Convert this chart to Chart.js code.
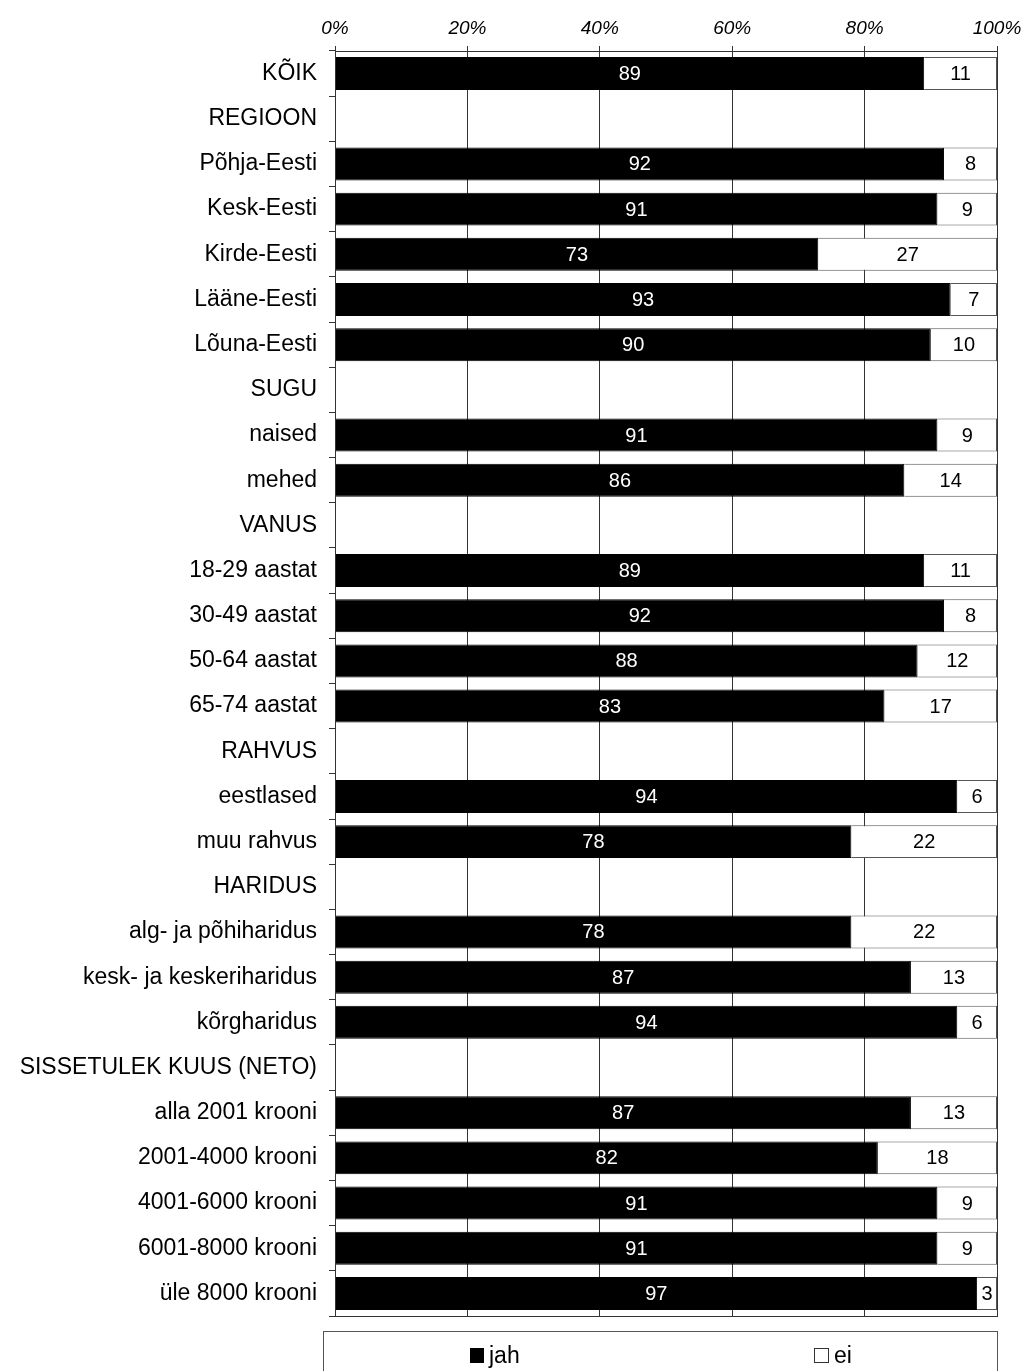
<!DOCTYPE html>
<html>
<head>
<meta charset="utf-8">
<script src="https://cdn.jsdelivr.net/npm/chart.js@4/dist/chart.umd.min.js"></script>
<style>
  body { margin: 0; background: #fff; }
  #wrap { width: 1023px; height: 1371px; position: relative; }
</style>
</head>
<body>
<div id="wrap"><canvas id="grafik"></canvas></div>
<script>
// Kategooriad (rühmade pealkirjad on tühjad read)
var kategooriad = ['KÕIK', 'REGIOON', 'Põhja-Eesti', 'Kesk-Eesti', 'Kirde-Eesti', 'Lääne-Eesti', 'Lõuna-Eesti',
  'SUGU', 'naised', 'mehed', 'VANUS', '18-29 aastat', '30-49 aastat', '50-64 aastat', '65-74 aastat',
  'RAHVUS', 'eestlased', 'muu rahvus', 'HARIDUS', 'alg- ja põhiharidus', 'kesk- ja keskeriharidus', 'kõrgharidus',
  'SISSETULEK KUUS (NETO)', 'alla 2001 krooni', '2001-4000 krooni', '4001-6000 krooni', '6001-8000 krooni', 'üle 8000 krooni'];

var jah = [89, null, 92, 91, 73, 93, 90, null, 91, 86, null, 89, 92, 88, 83, null, 94, 78, null, 78, 87, 94, null, 87, 82, 91, 91, 97];
var ei  = [11, null, 8, 9, 27, 7, 10, null, 9, 14, null, 11, 8, 12, 17, null, 6, 22, null, 22, 13, 6, null, 13, 18, 9, 9, 3];

var xTicks = [0, 20, 40, 60, 80, 100];

var FONT = '"Liberation Sans", Arial, sans-serif';

// Väärtused tulpade sisse
var silTulbal = {
  id: 'silTulbal',
  afterDatasetsDraw: function(chart) {
    var ctx = chart.ctx;
    ctx.save();
    ctx.font = '20px ' + FONT;
    ctx.textAlign = 'center';
    ctx.textBaseline = 'middle';
    chart.data.datasets.forEach(function(ds, i) {
      var meta = chart.getDatasetMeta(i);
      meta.data.forEach(function(bar, j) {
        var v = ds.data[j];
        if (v === null || v === undefined) return;
        ctx.fillStyle = i === 0 ? '#fff' : '#000';
        ctx.fillText(v, (bar.x + bar.base) / 2, bar.y + 1);
      });
    });
    ctx.restore();
  }
};

// Raam ümber joonise ja legend all
var raamJaLegend = {
  id: 'raamJaLegend',
  afterDraw: function(chart) {
    var ctx = chart.ctx;
    var a = chart.chartArea;
    ctx.save();
    ctx.strokeStyle = '#333';
    ctx.lineWidth = 1;
    ctx.strokeRect(Math.round(a.left) + 0.5, Math.round(a.top) + 0.5, Math.round(a.right - a.left), Math.round(a.bottom - a.top));

    // legendi kast
    ctx.strokeStyle = '#555';
    ctx.strokeRect(323.5, 1331.5, 674, 60);
    ctx.font = '23px ' + FONT;
    ctx.textBaseline = 'middle';
    ctx.textAlign = 'left';
    ctx.fillStyle = '#000';
    ctx.fillRect(470, 1348, 14, 15);
    ctx.fillText('jah', 489, 1357);
    ctx.fillStyle = '#fff';
    ctx.fillRect(814, 1348, 14, 15);
    ctx.strokeStyle = '#333';
    ctx.strokeRect(814.5, 1348.5, 14, 14);
    ctx.fillStyle = '#000';
    ctx.fillText('ei', 834, 1357);
    ctx.restore();
  }
};

var ctx = document.getElementById('grafik');
ctx.width = 1023;
ctx.height = 1371;

new Chart(ctx, {
  type: 'bar',
  data: {
    labels: kategooriad,
    datasets: [
      {
        label: 'jah',
        data: jah,
        backgroundColor: '#000',
        borderColor: '#000',
        borderWidth: 1,
        barPercentage: 0.73,
        categoryPercentage: 1
      },
      {
        label: 'ei',
        data: ei,
        backgroundColor: '#fff',
        borderColor: '#555',
        borderWidth: 1,
        barPercentage: 0.73,
        categoryPercentage: 1
      }
    ]
  },
  options: {
    indexAxis: 'y',
    responsive: false,
    animation: false,
    layout: { padding: { left: 0, right: 26, top: 0, bottom: 55 } },
    plugins: {
      legend: { display: false },
      tooltip: { enabled: false }
    },
    scales: {
      x: {
        position: 'top',
        stacked: true,
        min: 0,
        max: 100,
        afterBuildTicks: function(scale) {
          scale.ticks = xTicks.map(function(v) { return { value: v }; });
        },
        afterFit: function(scale) {
          scale.height = 51;
          scale.paddingRight = 0;
          scale.paddingLeft = 0;
        },
        ticks: {
          color: '#000',
          padding: 6,
          font: { family: FONT, size: 19, style: 'italic' },
          callback: function(v) { return v + '%'; }
        },
        grid: { color: '#333', tickLength: 5, lineWidth: 1 },
        border: { color: '#333' }
      },
      y: {
        stacked: true,
        afterFit: function(scale) { scale.width = 335; },
        ticks: {
          color: '#000',
          padding: 12,
          font: { family: FONT, size: 23 }
        },
        grid: { drawOnChartArea: false, offset: true, tickLength: 6, color: '#333' },
        border: { color: '#333' }
      }
    }
  },
  plugins: [silTulbal, raamJaLegend]
});
</script>
</body>
</html>
